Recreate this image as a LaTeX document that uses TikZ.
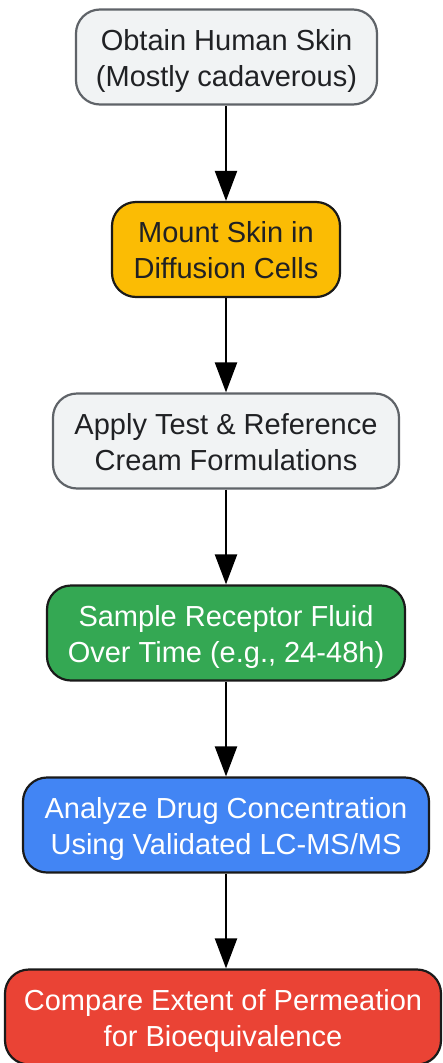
\documentclass[tikz,border=0pt]{standalone}
\usepackage{fontspec}
\setmainfont{Liberation Sans}
\usetikzlibrary{arrows.meta}
\definecolor{gfill}{HTML}{F1F3F4}
\definecolor{gborder}{HTML}{5F6368}
\definecolor{dborder}{HTML}{1A1A1A}
\definecolor{gtext}{HTML}{202124}
\definecolor{cyellow}{HTML}{FBBC04}
\definecolor{cgreen}{HTML}{34A853}
\definecolor{cblue}{HTML}{4285F4}
\definecolor{cred}{HTML}{EA4335}
\newcommand{\btxt}[1]{\raisebox{-4pt}[\height][\depth]{\begin{tabular}{@{}c@{}}#1\end{tabular}}}
\tikzset{
  box/.style={rounded corners=24pt, line width=2.2pt, minimum height=95pt,
    inner sep=0pt,
    font=\fontsize{29pt}{36pt}\selectfont},
  greybox/.style={box, fill=gfill, draw=gborder, text=gtext},
  colbox/.style={box, draw=dborder},
  flow/.style={line width=2.2pt, -{Triangle[length=30pt,width=22pt]}}
}
\begin{document}
\begin{tikzpicture}[x=1pt,y=1pt]
\useasboundingbox (0,0) rectangle (442,-1063);
\node[greybox, minimum width=301pt] (n1) at (226.5,-57) {\btxt{Obtain Human Skin\\(Mostly cadaverous)}};
\node[colbox, fill=cyellow, text=gtext, minimum width=228pt] (n2) at (226,-249.5) {\btxt{Mount Skin in\\Diffusion Cells}};
\node[greybox, minimum width=346pt] (n3) at (226,-441) {\btxt{Apply Test \& Reference\\Cream Formulations}};
\node[colbox, fill=cgreen, text=white, minimum width=358pt] (n4) at (226,-633) {\btxt{Sample Receptor Fluid\\Over Time (e.g., 24-48h)}};
\node[colbox, fill=cblue, text=white, minimum width=406pt] (n5) at (226,-825) {\btxt{Analyze Drug Concentration\\Using Validated LC-MS/MS}};
\node[colbox, fill=cred, text=white, minimum width=436pt] (n6) at (223,-1017) {\btxt{Compare Extent of Permeation\\for Bioequivalence}};
\draw[flow] (n1.south -| 226,0) -- (n2.north -| 226,0);
\draw[flow] (n2) -- (n3);
\draw[flow] (n3) -- (n4);
\draw[flow] (n4) -- (n5);
\draw[flow] (n5.south -| 226,0) -- (n6.north -| 226,0);
\end{tikzpicture}
\end{document}
